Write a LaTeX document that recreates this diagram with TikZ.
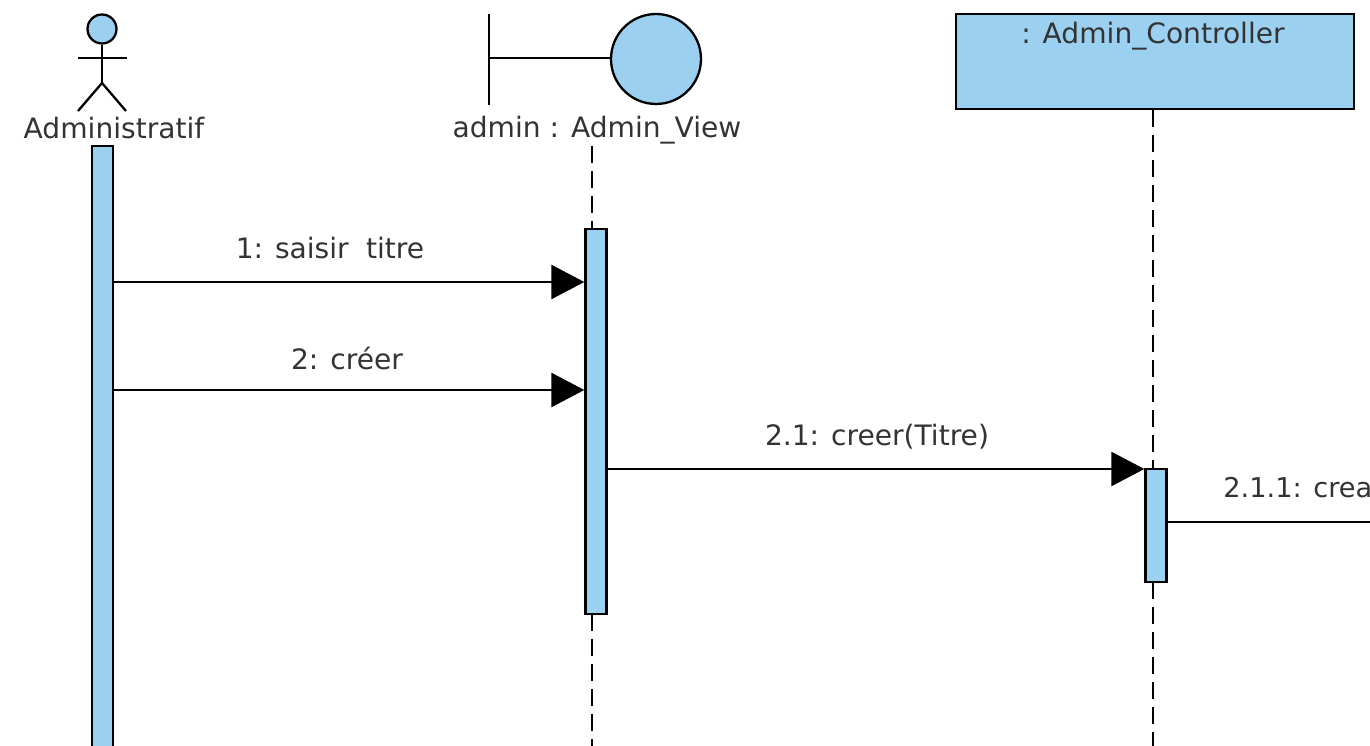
\documentclass[tikz,border=0pt]{standalone}
\usepackage{fontspec}
\setmainfont{DejaVu Sans}
\usetikzlibrary{arrows.meta}
\definecolor{umlblue}{HTML}{9BD0F0}
\definecolor{umltext}{HTML}{333333}

\begin{document}
\begin{tikzpicture}[x=.02cm,y=-.02cm]

\tikzstyle{caption}=[text=umltext,font=\fontsize{16}{19}\selectfont,inner sep=0pt]
\tikzstyle{blue}=[draw,fill=umlblue,line width=1.3pt]
\tikzstyle{bar}=[rectangle,blue,minimum width=.42cm,inner sep=0pt]
\tikzstyle{stroke}=[line width=1.3pt]
\tikzstyle{life}=[line width=1.3pt,dash pattern=on .34cm off .16cm]
\tikzstyle{msg}=[line width=1.3pt,-{Triangle[length=.66cm,width=.68cm]}]

\clip (0,0) rectangle (1370,746) ;

\coordinate (m1)   at (0,282) ;
\coordinate (m2)   at (0,390) ;
\coordinate (m3)   at (0,469) ;
\coordinate (m4)   at (0,522) ;
\coordinate (edge) at (1370,522) ;
\coordinate (end2) at (592,746) ;
\coordinate (end3) at (1153,746) ;

\node[caption] (actorname) at (114,128) {Administratif} ;
\node[caption] (viewname)  at (597,130) {admin : Admin\_View} ;

% actor
\node[circle,blue,minimum size=.58cm,inner sep=0pt] (head) at (102,29) {} ;
\coordinate (hip)  at (102,83) ;
\coordinate (arml) at (78,58) ;
\coordinate (armr) at (127,58) ;
\coordinate (legl) at (78,111) ;
\coordinate (legr) at (126,111) ;
\draw[stroke] (head) -- (hip) ;
\draw[stroke] (arml) -- (armr) ;
\draw[stroke] (legl) -- (hip) -- (legr) ;

% boundary
\node[circle,blue,minimum size=1.8cm,inner sep=0pt] (view) at (656,59) {} ;
\coordinate (post1) at (489,14) ;
\coordinate (post2) at (489,105) ;
\coordinate (postm) at (489,58) ;
\draw[stroke] (post1) -- (post2) ;
\draw[stroke] (postm) -- (view.west |- postm) ;

% controller
\node[rectangle,blue,minimum width=7.96cm,minimum height=1.9cm] (ctrl) at (1155,61.5) {} ;
\node[caption] (ctrlname) at (1153,36) {: Admin\_Controller} ;

\draw[life] (592,146) -- (592,229) ;
\draw[life] (592,614) -- (end2) ;
\draw[life] (end3 |- ctrl.south) -- (end3 |- 0,469) ;
\draw[life] (end3 |- 0,582) -- (end3) ;

\node[bar,minimum height=12.4cm] (bar1) at (102.5,456) {} ;
\node[bar,minimum height=7.7cm]  (bar2) at (596,421.5) {} ;
\node[bar,minimum height=2.26cm] (bar3) at (1156,525.5) {} ;

\draw[msg] (m1 -| bar1.east) -- (m1 -| bar2.west) ;
\draw[msg] (m2 -| bar1.east) -- (m2 -| bar2.west) ;
\draw[msg] (m3 -| bar2.east) -- (m3 -| bar3.west) ;
\draw[stroke] (m4 -| bar3.east) -- (edge) ;

\node[caption] (t1) at (330,248) {1: saisir\hspace{.3em} titre} ;
\node[caption] (t2) at (347,358) {2: créer} ;
\node[caption] (t3) at (877,437) {2.1: creer(Titre)} ;
\node[caption,anchor=west,font=\fontsize{15.5}{19}\selectfont] (t4) at (1223,488) {2.1.1: crea} ;

\end{tikzpicture}
\end{document}
